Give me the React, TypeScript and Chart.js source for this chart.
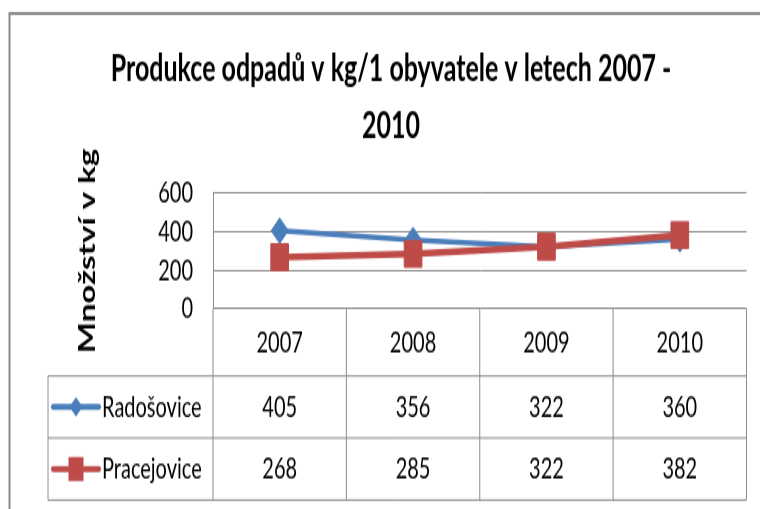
import React, { useEffect, useRef } from 'react';
import { Chart, registerables } from 'chart.js';

Chart.register(...registerables);

// ---- data ----
const CATEGORIES = ['2007', '2008', '2009', '2010'];
const RADOSOVICE = [405, 356, 322, 360];
const PRACEJOVICE = [268, 285, 322, 382];
const SERIES_NAMES = ['Radošovice', 'Pracejovice'];
const Y_MIN = 0;
const Y_MAX = 600;
const Y_STEP = 200;
const TITLE_LINES = ['Produkce odpadů v kg/1 obyvatele v letech 2007 -', '2010'];
const Y_TITLE = 'Množství v kg';

// ---- style ----
const BLUE = '#4A7EBB';
const RED = '#BE4B48';
const GRID = '#8c8c8c';
const FRAME = '#8a8a8a';
const TEXT = '#000';
const FONT = 'Lato';

// canvas is drawn at 760x340 and shown stretched to 760x510 (like the reference image)
const CW = 760;
const CH = 340;
const STRETCH = 1.5;

const TABLE_LEFT = 48;
const HEADER_H = 44.7;
const ROW_H = 41.33;
const KEY_X0 = 53;
const KEY_X1 = 99;
const LABEL_X = 102;

function strokeLine(ctx: CanvasRenderingContext2D, x0: number, y0: number, x1: number, y1: number) {
  ctx.beginPath();
  ctx.moveTo(x0, y0);
  ctx.lineTo(x1, y1);
  ctx.stroke();
}

const framePlugin = {
  id: 'frameBg',
  beforeDraw(chart: any) {
    const { ctx, width, height } = chart;
    ctx.save();
    ctx.fillStyle = '#fff';
    ctx.fillRect(0, 0, width, height);
    ctx.strokeStyle = FRAME;
    ctx.lineWidth = 2;
    ctx.beginPath();
    ctx.moveTo(9.5, height + 10);
    ctx.lineTo(9.5, 9);
    ctx.lineTo(width + 10, 9);
    ctx.stroke();
    ctx.restore();
  },
};

const tablePlugin = {
  id: 'dataTable',
  afterDraw(chart: any) {
    const { ctx, chartArea } = chart;
    const xs = chart.scales.x;
    const centers: number[] = CATEGORIES.map((_, i) => xs.getPixelForValue(i));
    const step = centers[1] - centers[0];
    const bounds = [centers[0] - step / 2, ...centers.map((c) => c + step / 2)];
    const top = chartArea.bottom;
    const headerBottom = xs.bottom;
    const datasets = chart.data.datasets;
    const tableBottom = headerBottom + ROW_H * datasets.length;
    const right = bounds[bounds.length - 1];

    ctx.save();
    ctx.strokeStyle = GRID;
    ctx.lineWidth = 1;
    bounds.forEach((b) => strokeLine(ctx, b, top, b, tableBottom));
    strokeLine(ctx, TABLE_LEFT, headerBottom, TABLE_LEFT, tableBottom);
    for (let r = 0; r <= datasets.length; r++) {
      const y = headerBottom + ROW_H * r;
      strokeLine(ctx, TABLE_LEFT, y, right, y);
    }

    datasets.forEach((ds: any, r: number) => {
      const cy = headerBottom + ROW_H * (r + 0.5);
      // legend key
      ctx.strokeStyle = ds.borderColor;
      ctx.lineWidth = 4;
      ctx.lineCap = 'round';
      strokeLine(ctx, KEY_X0, cy, KEY_X1, cy);
      const mx = (KEY_X0 + KEY_X1) / 2;
      ctx.fillStyle = ds.borderColor;
      ctx.beginPath();
      if (ds.pointStyle === 'rectRot') {
        ctx.moveTo(mx - 6.5, cy);
        ctx.lineTo(mx, cy - 6.5);
        ctx.lineTo(mx + 6.5, cy);
        ctx.lineTo(mx, cy + 6.5);
        ctx.closePath();
      } else {
        ctx.rect(mx - 7.5, cy - 8, 15, 16);
      }
      ctx.fill();
      // texts
      ctx.fillStyle = TEXT;
      ctx.font = `20px ${FONT}`;
      ctx.textBaseline = 'middle';
      ctx.textAlign = 'left';
      ctx.fillText(ds.label, LABEL_X, cy);
      ctx.textAlign = 'center';
      ds.data.forEach((v: number, i: number) => ctx.fillText(String(v), centers[i], cy));
    });
    ctx.restore();
  },
};

export default function App() {
  const ref = useRef<HTMLCanvasElement>(null);

  useEffect(() => {
    const canvas = ref.current;
    if (!canvas) return;
    const chart = new Chart(canvas, {
      type: 'line',
      data: {
        labels: CATEGORIES,
        datasets: [
          {
            label: SERIES_NAMES[0],
            data: RADOSOVICE,
            borderColor: BLUE,
            backgroundColor: BLUE,
            borderWidth: 3.5,
            pointStyle: 'rectRot',
            pointRadius: 8.5,
            pointBorderWidth: 1,
            pointBackgroundColor: BLUE,
            pointBorderColor: BLUE,
            tension: 0,
            order: 1,
          },
          {
            label: SERIES_NAMES[1],
            data: PRACEJOVICE,
            borderColor: RED,
            backgroundColor: RED,
            borderWidth: 4.5,
            pointStyle: 'rect',
            pointRadius: 12.5,
            pointBorderWidth: 1,
            pointBackgroundColor: RED,
            pointBorderColor: RED,
            tension: 0,
            order: 0,
          },
        ],
      },
      options: {
        responsive: false,
        animation: false,
        devicePixelRatio: 1,
        layout: { padding: { left: 31, right: 9, top: 0, bottom: CH - 250.7 } },
        plugins: {
          legend: { display: false },
          tooltip: { enabled: false },
          title: {
            display: true,
            text: TITLE_LINES,
            color: TEXT,
            font: { family: FONT, size: 25, weight: 'bold', lineHeight: 1.49 },
            padding: { top: 27.7, bottom: 26.4 },
          },
        },
        scales: {
          x: {
            offset: true,
            grid: { display: false, drawTicks: false },
            border: { display: false },
            ticks: {
              padding: 10.3,
              color: TEXT,
              font: { family: FONT, size: 20, lineHeight: 1.2 },
              maxRotation: 0,
              autoSkip: false,
            },
            afterFit: (s: any) => {
              s.height = HEADER_H;
            },
          },
          y: {
            min: Y_MIN,
            max: Y_MAX,
            ticks: {
              stepSize: Y_STEP,
              autoSkip: false,
              padding: 20,
              color: TEXT,
              font: { family: FONT, size: 20 },
            },
            grid: { color: GRID, lineWidth: 1, drawTicks: false },
            border: { display: true, color: GRID, width: 1 },
            title: {
              display: true,
              text: Y_TITLE,
              color: TEXT,
              font: { family: FONT, size: 22, weight: 'bold', lineHeight: 1.2 },
              padding: { top: 43.8, bottom: 0 },
            },
            afterFit: (s: any) => {
              s.width = 182;
            },
          },
        },
      },
      plugins: [framePlugin, tablePlugin],
    } as any);
    return () => chart.destroy();
  }, []);

  return (
    <div
      style={{
        position: 'absolute',
        left: 0,
        top: 0,
        width: CW,
        height: 509,
        overflow: 'hidden',
        background: '#fff',
      }}
    >
      <canvas
        ref={ref}
        width={CW}
        height={CH}
        style={{ display: 'block', width: `${CW}px`, height: `${CH * STRETCH}px` }}
      />
    </div>
  );
}
